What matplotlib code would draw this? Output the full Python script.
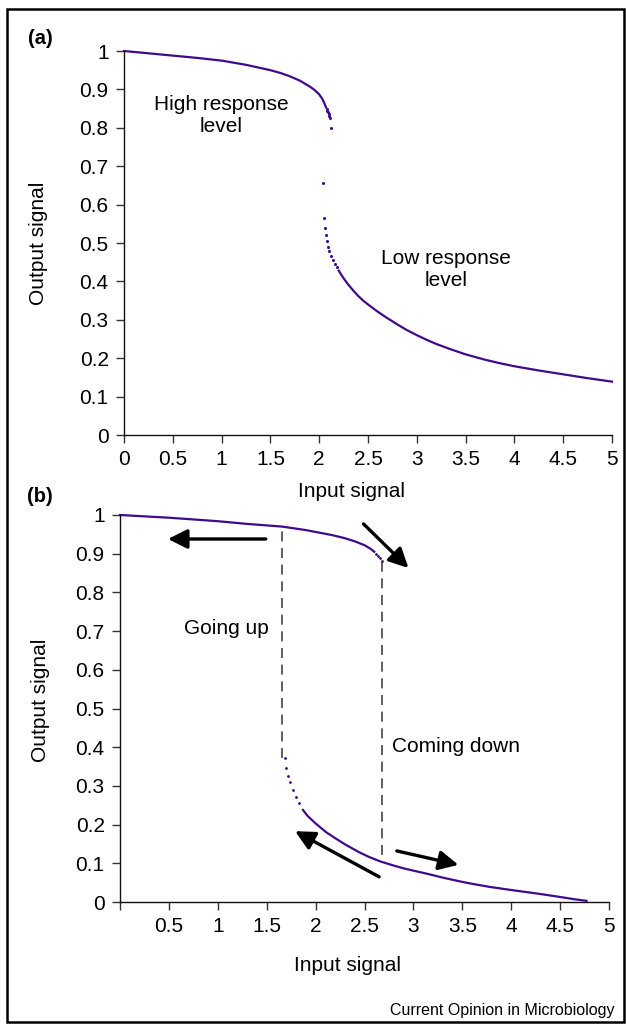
# Bistable response: (a) steady-state curve, (b) hysteresis loop
import matplotlib.pyplot as plt
from matplotlib.patches import Rectangle

plt.rcParams['font.family'] = ['Liberation Sans', 'DejaVu Sans']

# ---- panel (a) data ----
a_up_x = [0.0, 0.25, 0.5, 0.75, 1.0, 1.25, 1.5, 1.6, 1.7, 1.8, 1.9, 1.95, 2.0, 2.03, 2.05, 2.07]
a_up_y = [1.0, 0.994, 0.988, 0.982, 0.975, 0.964, 0.95, 0.943, 0.934, 0.923, 0.908, 0.899,
          0.887, 0.876, 0.866, 0.853]
a_dots_x = [2.075, 2.085, 2.095, 2.10, 2.105, 2.11, 2.12, 2.04, 2.05,
            2.06, 2.07, 2.08, 2.09, 2.10, 2.12, 2.14, 2.16, 2.18]
a_dots_y = [0.85, 0.845, 0.84, 0.835, 0.83, 0.826, 0.80, 0.656, 0.565,
            0.54, 0.52, 0.505, 0.49, 0.48, 0.466, 0.455, 0.446, 0.438]
a_low_x = [2.2, 2.25, 2.3, 2.35, 2.4, 2.45, 2.5, 2.6, 2.7, 2.8, 2.9, 3.0, 3.1, 3.2, 3.35, 3.5,
           3.7, 3.85, 4.0, 4.25, 4.5, 4.75, 5.0]
a_low_y = [0.428, 0.408, 0.391, 0.376, 0.362, 0.35, 0.34, 0.321, 0.304, 0.288, 0.273, 0.26,
           0.248, 0.237, 0.223, 0.21, 0.196, 0.187, 0.179, 0.168, 0.158, 0.148, 0.139]

# ---- panel (b) data ----
b_up_x = [0.0, 0.5, 1.0, 1.3, 1.66, 1.9, 2.17, 2.3, 2.4, 2.5, 2.56, 2.6]
b_up_y = [1.0, 0.993, 0.984, 0.977, 0.97, 0.961, 0.948, 0.94, 0.932, 0.922, 0.913, 0.905]
b_dots_x = [2.62, 2.64, 2.66, 2.68, 1.69, 1.70, 1.72, 1.74, 1.77, 1.80, 1.83]
b_dots_y = [0.90, 0.895, 0.89, 0.882, 0.372, 0.346, 0.325, 0.31, 0.29, 0.272, 0.257]
b_low_x = [1.87, 1.92, 2.0, 2.11, 2.2, 2.3, 2.45, 2.55, 2.66, 2.8, 2.9, 3.0, 3.14, 3.3,
           3.48, 3.6, 3.78, 4.0, 4.29, 4.5, 4.65, 4.77]
b_low_y = [0.238, 0.222, 0.203, 0.18, 0.165, 0.149, 0.128, 0.116, 0.105, 0.094, 0.087,
           0.081, 0.073, 0.063, 0.053, 0.047, 0.039, 0.031, 0.021, 0.013, 0.007, 0.003]

# switching thresholds (dashed lines): x, y top, y bottom
thr_x = [1.66, 2.68]
thr_top = [0.97, 0.882]
thr_bot = [0.372, 0.121]

# arrows: (tail x, tail y, tip x, tip y)
arrows = [(1.49, 0.938, 0.49, 0.938),
          (2.49, 0.977, 2.95, 0.863),
          (2.65, 0.065, 1.79, 0.183),
          (2.83, 0.132, 3.46, 0.096)]

x_ticks = [0, 0.5, 1, 1.5, 2, 2.5, 3, 3.5, 4, 4.5, 5]
y_ticks = [0, 0.1, 0.2, 0.3, 0.4, 0.5, 0.6, 0.7, 0.8, 0.9, 1]

curve_col = '#400a8c'

fig = plt.figure(figsize=(6.26, 10.26), dpi=100)
W, H = 626, 1026


def make_axes(left, right, top, bottom):
    ax = fig.add_axes([left / W, 1 - bottom / H, (right - left) / W, (bottom - top) / H])
    ax.set_xlim(0, 5)
    ax.set_ylim(0, 1)
    for s in ['top', 'right']:
        ax.spines[s].set_visible(False)
    for s in ['left', 'bottom']:
        ax.spines[s].set_linewidth(1.0)
        ax.spines[s].set_color('#111111')
    ax.set_yticks(y_ticks)
    ax.set_yticklabels([f'{v:g}' for v in y_ticks])
    ax.set_xticks(x_ticks)
    ax.tick_params(length=6, width=1.0, color='#333333', labelsize=15, pad=5)
    return ax


# (a)
ax1 = make_axes(124, 612, 51, 435)
ax1.plot(a_up_x, a_up_y, color=curve_col, lw=1.6, clip_on=False)
ax1.plot(a_low_x, a_low_y, color=curve_col, lw=1.6, clip_on=False)
ax1.plot(a_dots_x, a_dots_y, 'o', color=curve_col, ms=1.2, clip_on=False)
ax1.set_xticklabels([f'{v:g}' for v in x_ticks])
ax1.set_xlabel('Input signal', fontsize=15, va='center')
ax1.xaxis.set_label_coords(0.467, -0.148)
ax1.set_ylabel('Output signal', fontsize=15, va='center')
ax1.yaxis.set_label_coords(-0.176, 0.5)
ax1.text(1.0, 0.833, 'High response\nlevel', fontsize=15, ha='center', va='center')
ax1.text(3.30, 0.432, 'Low response\nlevel', fontsize=15, ha='center', va='center')

# (b)
ax2 = make_axes(120, 609, 515, 902)
ax2.plot(b_up_x, b_up_y, color=curve_col, lw=1.6, clip_on=False)
ax2.plot(b_low_x, b_low_y, color=curve_col, lw=1.6, clip_on=False)
ax2.plot(b_dots_x, b_dots_y, 'o', color=curve_col, ms=1.0, clip_on=False)
ax2.set_xticklabels(['' if v == 0 else f'{v:g}' for v in x_ticks])
ax2.vlines(thr_x, thr_bot, thr_top, colors='#444444', linestyles=(0, (6, 4)), lw=1.2)
for tx, ty, hx, hy in arrows:
    ax2.annotate('', xy=(hx, hy), xytext=(tx, ty),
                 arrowprops=dict(arrowstyle='-|>,head_length=0.9,head_width=0.45',
                                 lw=2.4, color='black', mutation_scale=13,
                                 shrinkA=0, shrinkB=0))
ax2.text(1.09, 0.708, 'Going up', fontsize=15, ha='center', va='center')
ax2.text(2.78, 0.403, 'Coming down', fontsize=15, ha='left', va='center')
ax2.set_xlabel('Input signal', fontsize=15, va='center')
ax2.xaxis.set_label_coords(0.466, -0.163)
ax2.set_ylabel('Output signal', fontsize=15, va='center')
ax2.yaxis.set_label_coords(-0.162, 0.52)

# panel letters, credit line, frame
fig.text(40 / W, 1 - 39 / H, '(a)', fontsize=14.5, fontweight='bold', ha='center', va='center')
fig.text(40 / W, 1 - 496 / H, '(b)', fontsize=14.5, fontweight='bold', ha='center', va='center')
fig.text(614 / W, 1 - 1010 / H, 'Current Opinion in Microbiology', fontsize=11.5,
         ha='right', va='center')
fig.patches.append(Rectangle((7 / W, 1 - 1022 / H), 617 / W, 1013 / H,
                             transform=fig.transFigure, fill=False, lw=1.8,
                             edgecolor='black'))

fig.savefig('out.png', dpi=100)
